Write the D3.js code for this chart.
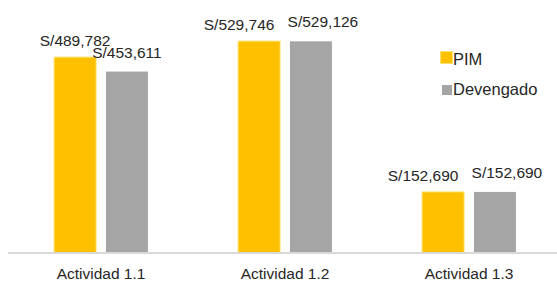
<!DOCTYPE html>
<html>
<head>
<meta charset="utf-8">
<script src="https://cdn.jsdelivr.net/npm/d3@7"></script>
<style>
  body { margin: 0; background: #fff; }
  text { font-family: "Liberation Sans", Arial, sans-serif; fill: #262626; }
</style>
</head>
<body>
<script>
var width = 557;
var height = 282;

var categories = ["Actividad 1.1", "Actividad 1.2", "Actividad 1.3"];
var series = ["PIM", "Devengado"];
var pim = [489782, 529746, 152690];
var devengado = [453611, 529126, 152690];

var colors = { PIM: "#FFC000", Devengado: "#A5A5A5" };

var svg = d3.select("body").append("svg")
  .attr("width", width)
  .attr("height", height);

var rows = categories.map(function (c, i) {
  return { cat: c, values: [
    { key: "PIM", value: pim[i] },
    { key: "Devengado", value: devengado[i] }
  ] };
});

// escalas
var x0 = d3.scaleBand()
  .domain(categories)
  .range([9, 561])
  .paddingInner(0.49)
  .paddingOuter(0.245);

var x1 = d3.scaleBand()
  .domain(series)
  .range([0, x0.bandwidth()])
  .paddingInner(0.19);

var y = d3.scaleLinear()
  .domain([0, 600000])
  .range([253, 13]);

var fmt = function (v) { return "S/" + d3.format(",")(v); };

// barras
var groups = svg.selectAll("g.grp")
  .data(rows)
  .enter().append("g")
  .attr("class", "grp")
  .attr("transform", function (d) { return "translate(" + x0(d.cat) + ",0)"; });

groups.selectAll("rect")
  .data(function (d) { return d.values; })
  .enter().append("rect")
  .attr("x", function (d) { return x1(d.key); })
  .attr("y", function (d) { return y(d.value); })
  .attr("width", x1.bandwidth())
  .attr("height", function (d) { return y(0) - y(d.value); })
  .attr("fill", function (d) { return colors[d.key]; })
  .attr("stroke", function (d) { return d.key == "PIM" ? "#FFE36E" : "none"; })
  .attr("stroke-width", 1);

// eje x
svg.append("line")
  .attr("x1", 8).attr("x2", width)
  .attr("y1", y(0)).attr("y2", y(0))
  .attr("stroke", "#D9D9D9")
  .attr("stroke-width", 2);

// etiquetas de valores (si quedan a la misma altura, se separan a los lados)
groups.each(function (g) {
  var close = Math.abs(y(g.values[0].value) - y(g.values[1].value)) < 13;
  d3.select(this).selectAll("text.val")
    .data(g.values)
    .enter().append("text")
    .attr("class", "val")
    .attr("x", function (d) {
      var cx = x1(d.key) + x1.bandwidth() / 2;
      if (close) cx += d.key == "PIM" ? -20 : 12;
      return cx;
    })
    .attr("y", function (d) { return y(d.value) - (d.key == "PIM" ? 11 : 14); })
    .attr("text-anchor", "middle")
    .attr("font-size", "15.5px")
    .text(function (d) { return fmt(d.value); });
});

// etiquetas de categorias
svg.selectAll("text.cat")
  .data(categories)
  .enter().append("text")
  .attr("class", "cat")
  .attr("x", function (d) { return x0(d) + x0.bandwidth() / 2; })
  .attr("y", 279)
  .attr("text-anchor", "middle")
  .attr("font-size", "15.5px")
  .text(function (d) { return d; });

// leyenda
var legend = svg.append("g").attr("transform", "translate(440,51)");
var items = legend.selectAll("g")
  .data(series)
  .enter().append("g")
  .attr("transform", function (d, i) { return "translate(0," + i * 30 + ")"; });

items.append("rect")
  .attr("x", function (d) { return d == "PIM" ? 0.5 : 2; })
  .attr("y", function (d) { return d == "PIM" ? 0.5 : 4; })
  .attr("width", function (d) { return d == "PIM" ? 12 : 10; })
  .attr("height", function (d) { return d == "PIM" ? 12 : 10; })
  .attr("fill", function (d) { return colors[d]; })
  .attr("stroke", function (d) { return d == "PIM" ? "#FFE36E" : "none"; });

items.append("text")
  .attr("x", 13)
  .attr("y", 14)
  .attr("font-size", "16.5px")
  .text(function (d) { return d; });
</script>
</body>
</html>
